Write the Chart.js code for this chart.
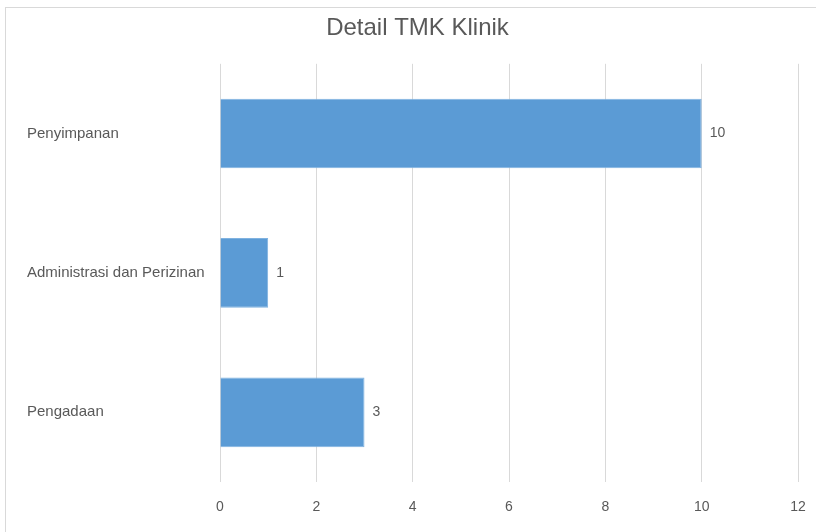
<!DOCTYPE html>
<html>
<head>
<meta charset="utf-8">
<script src="https://cdn.jsdelivr.net/npm/chart.js@4.4.1/dist/chart.umd.min.js"></script>
<style>
  html, body { margin: 0; padding: 0; background: #fff; }
  #wrap { position: relative; width: 816px; height: 532px; overflow: hidden; }
  #frame { position: absolute; left: 5px; top: 7px; width: 900px; height: 600px; border: 1px solid #d9d9d9; box-sizing: border-box; }
  #c { position: absolute; left: 0; top: 0; }
</style>
</head>
<body>
<div id="wrap">
  <div id="frame"></div>
  <canvas id="c" width="816" height="532"></canvas>
</div>
<script>
const categories = ["Penyimpanan", "Administrasi dan Perizinan", "Pengadaan"];
const values = [10, 1, 3];
const titleText = "Detail TMK Klinik";
const xMin = 0, xMax = 12, xStep = 2;

const FONT = "'Liberation Sans', Arial, sans-serif";
const GRAY = "#595959";

const valueLabels = {
  id: 'valueLabels',
  afterDatasetsDraw(chart) {
    const ctx = chart.ctx;
    const meta = chart.getDatasetMeta(0);
    ctx.save();
    ctx.font = "14px " + FONT;
    ctx.fillStyle = GRAY;
    ctx.textAlign = 'left';
    ctx.textBaseline = 'middle';
    meta.data.forEach((bar, i) => {
      ctx.fillText(String(chart.data.datasets[0].data[i]), bar.x + 8, bar.y);
    });
    ctx.restore();
  }
};

new Chart(document.getElementById('c'), {
  type: 'bar',
  data: {
    labels: categories,
    datasets: [{
      data: values,
      backgroundColor: '#5b9bd5',
      borderColor: '#7fb2e0',
      borderWidth: 1,
      categoryPercentage: 1.0,
      barPercentage: 0.5
    }]
  },
  options: {
    indexAxis: 'y',
    responsive: false,
    animation: false,
    devicePixelRatio: 1,
    layout: { padding: { left: 27, right: 8, top: 0, bottom: 0 } },
    plugins: {
      legend: { display: false },
      tooltip: { enabled: false },
      title: {
        display: true,
        text: titleText,
        color: GRAY,
        font: { family: FONT, size: 24, weight: 'normal' },
        padding: { top: 14, bottom: 21 }
      }
    },
    scales: {
      x: {
        min: xMin, max: xMax,
        ticks: { stepSize: xStep, color: GRAY, font: { family: FONT, size: 14 }, padding: 17 },
        grid: { color: '#d9d9d9', lineWidth: 1, drawTicks: false },
        border: { display: false },
        afterFit(scale) { scale.paddingRight = 18; scale.paddingLeft = 0; scale.height = 50; }
      },
      y: {
        ticks: { color: GRAY, font: { family: FONT, size: 15 }, crossAlign: 'far', padding: 8 },
        grid: { display: false, drawTicks: false },
        border: { display: false },
        afterFit(scale) { scale.width = 193; }
      }
    }
  },
  plugins: [valueLabels]
});
</script>
</body>
</html>
